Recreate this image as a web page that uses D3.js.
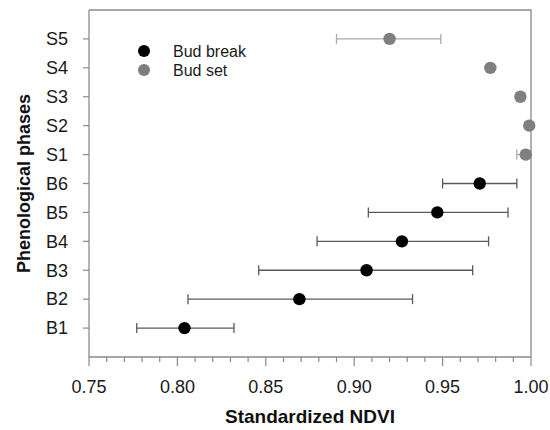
<!DOCTYPE html>
<html>
<head>
<meta charset="utf-8">
<script src="https://cdn.jsdelivr.net/npm/d3@7"></script>
<style>
  body { margin: 0; background: #fff; }
  svg { font-family: "Liberation Sans", Arial, sans-serif; }
</style>
</head>
<body>
<div id="chart"></div>
<script>
// phases bottom to top
const phases = ["B1", "B2", "B3", "B4", "B5", "B6", "S1", "S2", "S3", "S4", "S5"];
const series = ["Bud break", "Bud set"];
const means = [0.804, 0.869, 0.907, 0.927, 0.947, 0.971, 0.997, 0.999, 0.994, 0.977, 0.920];
const lows  = [0.777, 0.806, 0.846, 0.879, 0.908, 0.950, 0.992, 0.999, 0.994, 0.977, 0.890];
const highs = [0.832, 0.933, 0.967, 0.976, 0.987, 0.992, 1.000, 0.999, 0.994, 0.977, 0.949];
const xTicks = [0.75, 0.80, 0.85, 0.90, 0.95, 1.00];

const width = 550, height = 430;
const margin = {top: 10, right: 19, bottom: 73, left: 89};

const svg = d3.select("#chart").append("svg")
  .attr("width", width)
  .attr("height", height);

const x = d3.scaleLinear()
  .domain([0.75, 1.0])
  .range([margin.left, width - margin.right]);

// one empty slot below B1 and above S5
const y = d3.scaleLinear()
  .domain([0, phases.length + 1])
  .range([height - margin.bottom, margin.top]);

const frameColor = "#8a8a8a";
const colors = {"Bud break": "#000000", "Bud set": "#7f7f7f"};
const barColors = {"Bud break": "#5a5a5a", "Bud set": "#aaaaaa"};

const data = phases.map((p, i) => ({
  phase: p,
  pos: i + 1,
  group: p[0] === "B" ? "Bud break" : "Bud set",
  mean: means[i],
  low: lows[i],
  high: highs[i]
}));

// frame top + right
svg.append("path")
  .attr("d", `M${x(0.75)},${y.range()[1]}H${x(1)}V${y.range()[0]}`)
  .attr("fill", "none")
  .attr("stroke", frameColor)
  .attr("stroke-width", 1.3);

// x axis with minor ticks
const xAxisG = svg.append("g")
  .attr("transform", `translate(0,${y.range()[0]})`);

xAxisG.append("line")
  .attr("x1", x(0.75)).attr("x2", x(1))
  .attr("stroke", frameColor).attr("stroke-width", 1.3);

const minor = d3.range(0, 26).map(i => 0.75 + i * 0.01);
xAxisG.selectAll(".minor")
  .data(minor)
  .join("line")
  .attr("x1", d => x(d)).attr("x2", d => x(d))
  .attr("y1", 0)
  .attr("y2", (d, i) => i % 5 === 0 ? 9 : 5)
  .attr("stroke", frameColor).attr("stroke-width", 1.2);

xAxisG.selectAll(".lbl")
  .data(xTicks)
  .join("text")
  .attr("x", d => x(d))
  .attr("y", 36)
  .attr("text-anchor", "middle")
  .attr("font-size", 18)
  .attr("fill", "#1a1a1a")
  .text(d => d.toFixed(2));

// y axis
const yAxisG = svg.append("g")
  .attr("transform", `translate(${margin.left},0)`);

yAxisG.append("line")
  .attr("y1", y.range()[0]).attr("y2", y.range()[1])
  .attr("stroke", frameColor).attr("stroke-width", 1.3);

yAxisG.selectAll(".tk")
  .data(data)
  .join("line")
  .attr("x1", -6).attr("x2", 0)
  .attr("y1", d => y(d.pos)).attr("y2", d => y(d.pos))
  .attr("stroke", frameColor).attr("stroke-width", 1.2);

yAxisG.selectAll(".lbl")
  .data(data)
  .join("text")
  .attr("x", -21)
  .attr("y", d => y(d.pos))
  .attr("dy", "0.35em")
  .attr("text-anchor", "end")
  .attr("font-size", 18)
  .attr("fill", "#1a1a1a")
  .text(d => d.phase);

// axis titles
svg.append("text")
  .attr("x", (x(0.75) + x(1)) / 2)
  .attr("y", 423)
  .attr("text-anchor", "middle")
  .attr("font-size", 19)
  .attr("font-weight", "bold")
  .attr("fill", "#111")
  .text("Standardized NDVI");

svg.append("text")
  .attr("transform", `translate(30,${(y.range()[0] + y.range()[1]) / 2}) rotate(-90)`)
  .attr("text-anchor", "middle")
  .attr("font-size", 18)
  .attr("font-weight", "bold")
  .attr("fill", "#111")
  .text("Phenological phases");

// error bars
const bars = svg.append("g").selectAll("g")
  .data(data.filter(d => d.high - d.low > 0.0005))
  .join("g")
  .attr("stroke", d => barColors[d.group])
  .attr("stroke-width", 1.3);

bars.append("line")
  .attr("x1", d => x(d.low)).attr("x2", d => x(d.high))
  .attr("y1", d => y(d.pos)).attr("y2", d => y(d.pos));

bars.append("line")
  .attr("x1", d => x(d.low)).attr("x2", d => x(d.low))
  .attr("y1", d => y(d.pos) - 5).attr("y2", d => y(d.pos) + 5);

bars.append("line")
  .attr("x1", d => x(d.high)).attr("x2", d => x(d.high))
  .attr("y1", d => y(d.pos) - 5).attr("y2", d => y(d.pos) + 5);

// points
svg.append("g").selectAll("circle")
  .data(data)
  .join("circle")
  .attr("cx", d => x(d.mean))
  .attr("cy", d => y(d.pos))
  .attr("r", 6.2)
  .attr("fill", d => colors[d.group]);

// legend
const legend = svg.append("g")
  .attr("transform", "translate(144,51)");

const item = legend.selectAll("g")
  .data(series)
  .join("g")
  .attr("transform", (d, i) => `translate(0,${i * 19})`);

item.append("circle")
  .attr("r", 6)
  .attr("fill", d => colors[d]);

item.append("text")
  .attr("x", 29)
  .attr("dy", "0.35em")
  .attr("font-size", 16)
  .attr("fill", "#1a1a1a")
  .text(d => d);
</script>
</body>
</html>
